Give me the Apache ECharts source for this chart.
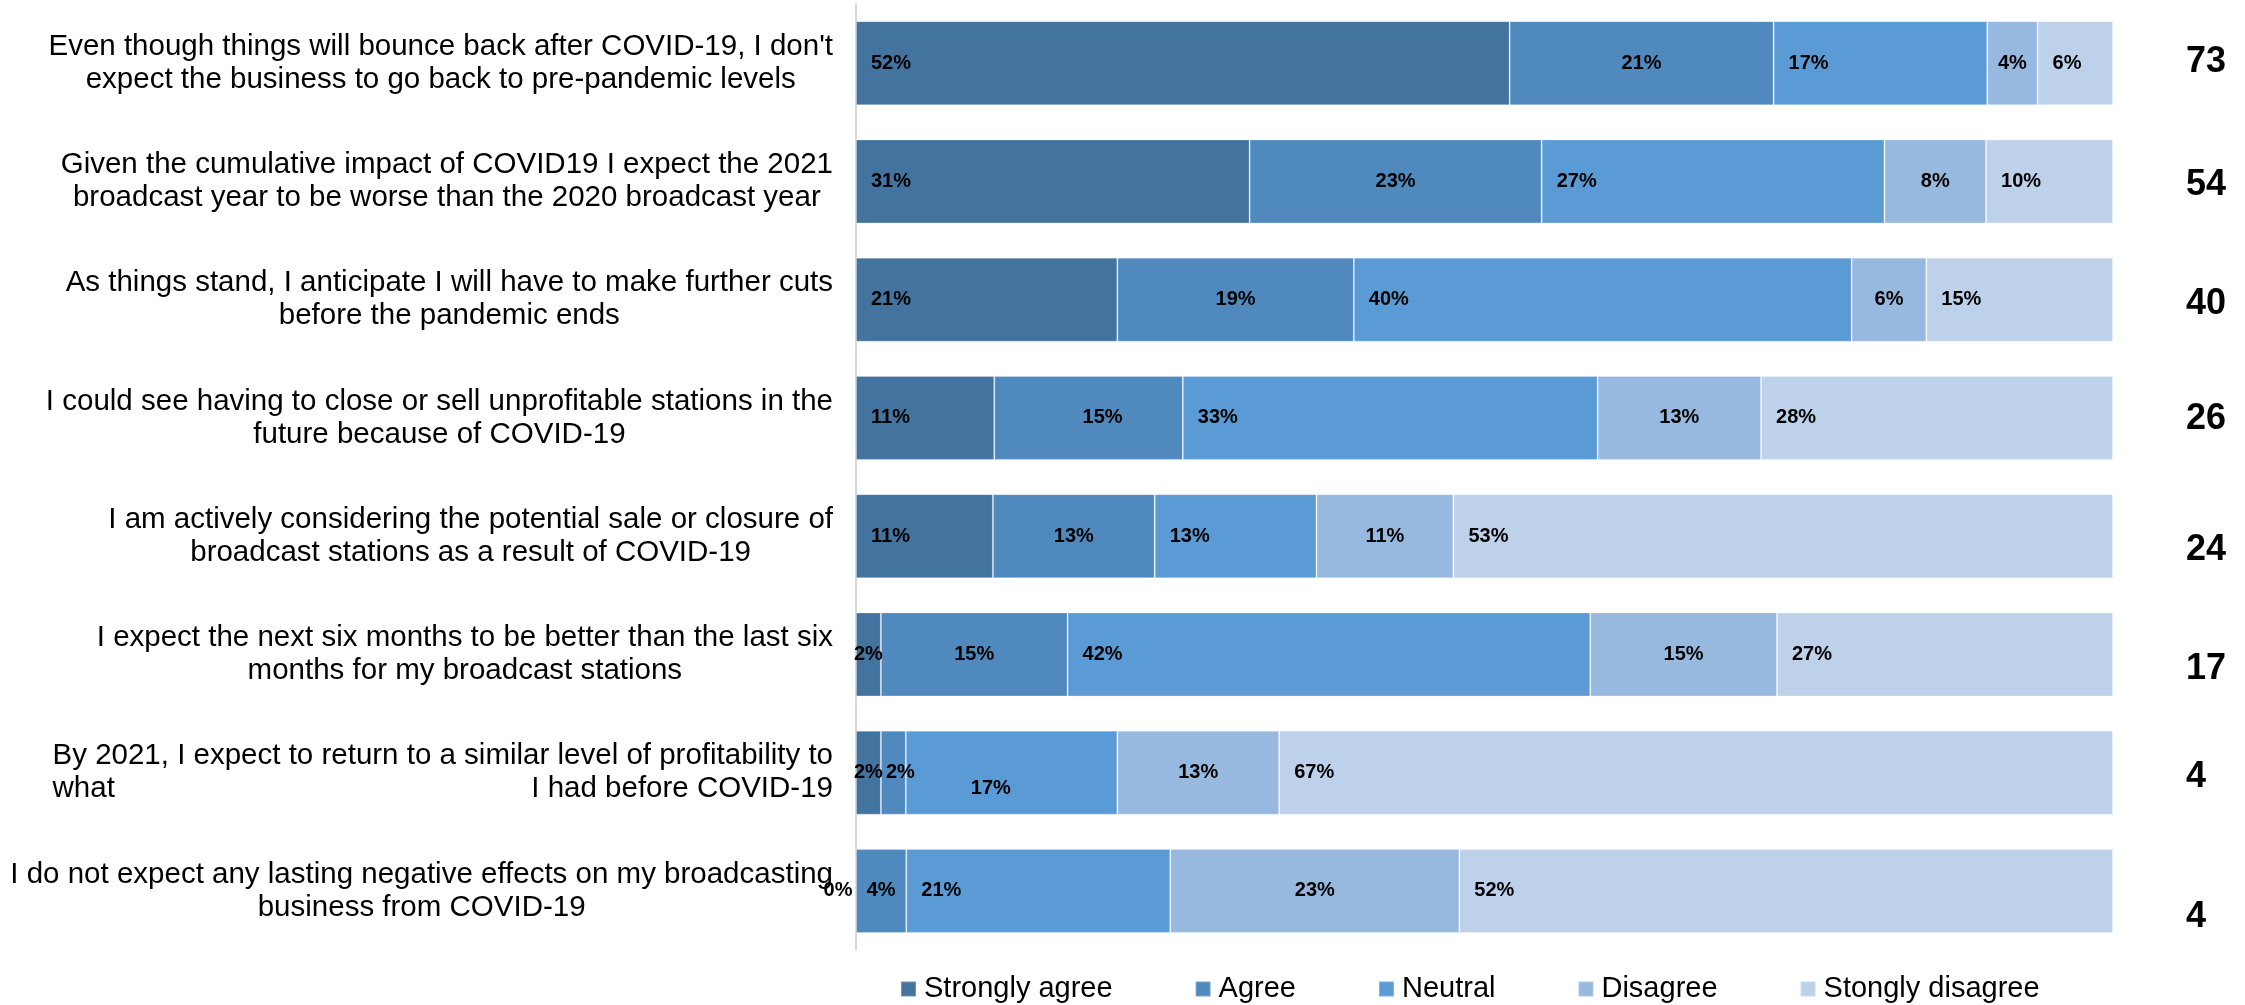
<!DOCTYPE html>
<html>
<head>
<meta charset="utf-8">
<title>COVID-19 broadcaster outlook</title>
<script src="https://cdn.jsdelivr.net/npm/echarts@6/dist/echarts.min.js"></script>
<style>
  html, body { margin: 0; padding: 0; background: #fff; }
  #chart { width: 2245px; height: 1005px; }
</style>
</head>
<body>
<div id="chart"></div>
<script>
// Survey statements (a tab splits a line into left- and right-justified parts)
const statements = [
  "Even though things will bounce back after COVID-19, I don't\nexpect the business to go back to pre-pandemic levels",
  "Given the cumulative impact of COVID19 I expect the 2021\nbroadcast year to be worse than the 2020 broadcast year",
  "As things stand, I anticipate I will have to make further cuts\nbefore the pandemic ends",
  "I could see having to close or sell unprofitable stations in the\nfuture because of COVID-19",
  "I am actively considering the potential sale or closure of\nbroadcast stations as a result of COVID-19",
  "I expect the next six months to be better than the last six\nmonths for my broadcast stations",
  "By 2021, I expect to return to a similar level of profitability to\nwhat\tI had before COVID-19",
  "I do not expect any lasting negative effects on my broadcasting\nbusiness from COVID-19"
];
const responses = ['Strongly agree', 'Agree', 'Neutral', 'Disagree', 'Stongly disagree'];

// Share of respondents (%) per statement
const stronglyAgree    = [52, 31, 21, 11, 11,  2,  2,  0];
const agree            = [21, 23, 19, 15, 13, 15,  2,  4];
const neutral          = [17, 27, 40, 33, 13, 42, 17, 21];
const disagree         = [ 4,  8,  6, 13, 11, 15, 13, 23];
const stronglyDisagree = [ 6, 10, 15, 28, 53, 27, 67, 52];

// Score printed to the right of each bar
const sideScores = [73, 54, 40, 26, 24, 17, 4, 4];

const responseValues = [stronglyAgree, agree, neutral, disagree, stronglyDisagree];
const palette = ['#43739F', '#4F89BE', '#5B9BD5', '#98B9DF', '#BDD1EA'];
const FONT = '"Liberation Sans", Arial, Helvetica, sans-serif';

// Rows are drawn as 100% stacks, so each row is scaled to its own total
const rowTotals = statements.map((_, r) => responseValues.reduce((s, arr) => s + arr[r], 0));

// Hand-placed label nudges, keyed "series-row"
const labelNudges = { '1-3': [14, 0], '1-6': [7, 0], '2-6': [50, 16] };
// Vertical nudges for the right-hand scores
const scoreNudges = [-1, 4, 4, 1, 14, 15, 4, 26];

function labelFor(si, ri, v) {
  let position = (si % 2 === 0) ? 'insideLeft' : 'inside';
  let distance = 15;
  if (v === 0) { position = 'left'; distance = 3; }
  else if (v <= 2) { position = 'inside'; }
  const lbl = { position: position, distance: distance };
  const n = labelNudges[si + '-' + ri];
  if (n) lbl.offset = n;
  return lbl;
}

const series = responses.map((name, si) => ({
  name: name,
  type: 'bar',
  stack: 'total',
  barWidth: 84,
  itemStyle: { color: palette[si], borderColor: 'rgba(255,255,255,0.25)', borderWidth: 1 },
  label: {
    show: true,
    color: '#000',
    fontFamily: FONT,
    fontSize: 20,
    fontWeight: 'bold',
    formatter: p => p.data.raw + '%'
  },
  emphasis: { disabled: true },
  data: responseValues[si].map((v, ri) => ({
    value: v / rowTotals[ri] * 100,
    raw: v,
    label: labelFor(si, ri, v)
  }))
}));

const scoreRich = {};
scoreNudges.forEach((d, i) => {
  scoreRich['s' + i] = {
    fontSize: 36, fontWeight: 'bold', color: '#000', fontFamily: FONT,
    padding: d >= 0 ? [2 * d, 0, 0, 0] : [0, 0, -2 * d, 0]
  };
});

const textRich = {
  c: { align: 'center', fontSize: 29.5, lineHeight: 33, color: '#000', fontFamily: FONT },
  l: { align: 'left',   fontSize: 29.5, lineHeight: 33, color: '#000', fontFamily: FONT },
  r: { align: 'right',  fontSize: 29.5, lineHeight: 33, color: '#000', fontFamily: FONT }
};

const chart = echarts.init(document.getElementById('chart'), null, { renderer: 'canvas' });
chart.setOption({
  animation: false,
  backgroundColor: '#fff',
  grid: { left: 856, right: 132, top: 4, bottom: 55, containLabel: false },
  legend: {
    data: responses,
    left: 900,
    top: 974,
    padding: 0,
    icon: 'rect',
    itemWidth: 15,
    itemHeight: 15,
    itemGap: 82,
    selectedMode: false,
    textStyle: { fontSize: 29, color: '#000', fontFamily: FONT, lineHeight: 30, padding: [0, 0, 0, 3] }
  },
  xAxis: { type: 'value', min: 0, max: 100, show: false },
  yAxis: [
    {
      type: 'category',
      data: statements,
      inverse: true,
      offset: 1,
      axisLine: { show: true, lineStyle: { color: '#D9D9D9', width: 2 } },
      axisTick: { show: false },
      splitLine: { show: false },
      axisLabel: {
        margin: 22,
        interval: 0,
        formatter: value => value.split('\n').map(line => {
          const parts = line.split('\t');
          return parts.length > 1
            ? '{l|' + parts[0] + '}{r|' + parts[1] + '}'
            : '{c|' + line + '}';
        }).join('\n'),
        rich: textRich
      }
    },
    {
      type: 'category',
      position: 'right',
      data: sideScores.map((s, i) => 'score' + i),
      inverse: true,
      axisLine: { show: false },
      axisTick: { show: false },
      splitLine: { show: false },
      axisLabel: {
        margin: 73,
        align: 'left',
        interval: 0,
        formatter: (v, i) => '{s' + i + '|' + sideScores[i] + '}',
        rich: scoreRich
      }
    }
  ],
  series: series
});
</script>
</body>
</html>
